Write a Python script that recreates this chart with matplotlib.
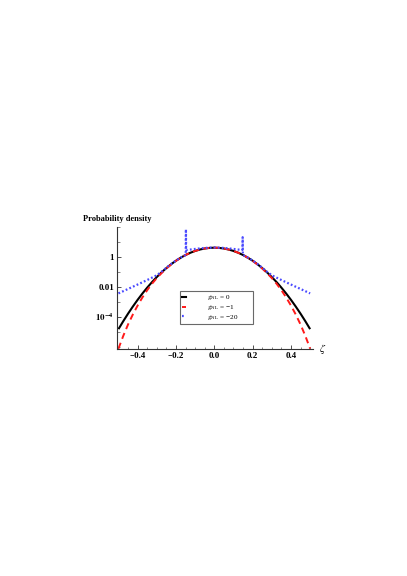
import numpy as np
import matplotlib
matplotlib.use("Agg")
import matplotlib.pyplot as plt
from matplotlib.lines import Line2D
from matplotlib.ticker import FixedLocator, NullFormatter, FixedFormatter, LogLocator

plt.rcParams['font.family'] = ['Liberation Serif', 'DejaVu Serif']
plt.rcParams['mathtext.fontset'] = 'stix'

# ---- data ----
zeta = [-0.5, -0.475, -0.45, -0.425, -0.4, -0.375, -0.35, -0.325, -0.3, -0.275,
        -0.25, -0.225, -0.2, -0.175, -0.15, -0.125, -0.1, -0.075, -0.05, -0.025,
        0.0, 0.025, 0.05, 0.075, 0.1, 0.125, 0.15, 0.175, 0.2, 0.225,
        0.25, 0.275, 0.3, 0.325, 0.35, 0.375, 0.4, 0.425, 0.45, 0.475, 0.5]

p_g0 = [1.49e-5, 5.03e-5, 1.60e-4, 4.77e-4, 1.34e-3, 3.53e-3, 8.73e-3, 0.0203, 0.0443, 0.0909,
        0.175, 0.318, 0.540, 0.863, 1.30, 1.83, 2.42, 3.01, 3.52, 3.87,
        3.99, 3.87, 3.52, 3.01, 2.42, 1.83, 1.30, 0.863, 0.540, 0.318,
        0.175, 0.0909, 0.0443, 0.0203, 8.73e-3, 3.53e-3, 1.34e-3, 4.77e-4, 1.60e-4, 5.03e-5, 1.49e-5]

p_g1 = [7.5e-7, 5.27e-6, 3.05e-5, 1.41e-4, 5.59e-4, 1.94e-3, 5.90e-3, 0.0158, 0.0377, 0.0810,
        0.163, 0.304, 0.528, 0.860, 1.30, 1.84, 2.43, 3.02, 3.53, 3.88,
        4.00, 3.88, 3.53, 3.02, 2.43, 1.84, 1.30, 0.860, 0.528, 0.304,
        0.163, 0.0810, 0.0377, 0.0158, 5.90e-3, 1.94e-3, 5.59e-4, 1.41e-4, 3.05e-5, 5.27e-6, 7.5e-7]

zeta_g20 = [-0.5, -0.45, -0.4, -0.35, -0.3, -0.275, -0.25, -0.225, -0.2, -0.175,
            -0.152, -0.149, -0.148, -0.147, -0.125, -0.1, -0.05, 0.0, 0.05, 0.1,
            0.125, 0.147, 0.148, 0.149, 0.152, 0.175, 0.2, 0.225, 0.25, 0.275,
            0.3, 0.35, 0.4, 0.45, 0.5]
p_g20 = [0.0036, 0.0071, 0.014, 0.028, 0.058, 0.100, 0.185, 0.33, 0.56, 0.87,
         1.25, 1.3, 67.0, 2.8, 3.0, 3.3, 3.85, 4.1, 3.85, 3.3,
         3.0, 2.8, 20.0, 1.3, 1.25, 0.87, 0.56, 0.33, 0.185, 0.100,
         0.058, 0.028, 0.014, 0.0071, 0.0036]

labels = [r'$g_{\mathrm{NL}}$ = 0', '$g_{\\mathrm{NL}}$ = \u22121', '$g_{\\mathrm{NL}}$ = \u221220']
xticks = [-0.4, -0.2, 0.0, 0.2, 0.4]
xticklabels = ['\u22120.4', '\u22120.2', '0.0', '0.2', '0.4']
yticks = [1.0, 0.01, 1e-4]
yticklabels = ['1', '0.01', r'$\mathbf{10^{-4}}$']

# ---- figure ----
W, H = 407, 576
fig = plt.figure(figsize=(W / 100, H / 100), dpi=100)
ax = fig.add_axes([117 / W, 1 - 349 / H, 196 / W, 122.3 / H])

blue = '#4a4aff'
red = '#ff1a1a'
ax.plot(zeta, p_g0, color='black', lw=1.5, solid_capstyle='butt')
ax.plot(zeta, p_g1, color=red, lw=1.4, linestyle=(0, (3.2, 2.2)))
ax.plot(zeta_g20, p_g20, color=blue, lw=1.6, linestyle=(0, (0.8, 1.0)))

ax.set_yscale('log')
ax.set_xlim(-0.5076, 0.515)
ax.set_ylim(10 ** -6.15, 100)

for s in ['top', 'right']:
    ax.spines[s].set_visible(False)
for s in ['left', 'bottom']:
    ax.spines[s].set_linewidth(0.8)
    ax.spines[s].set_color('#333333')

ax.xaxis.set_major_locator(FixedLocator(xticks))
ax.xaxis.set_major_formatter(FixedFormatter(xticklabels))
ax.xaxis.set_minor_locator(FixedLocator(list(np.arange(-0.5, 0.51, 0.05))))
ax.yaxis.set_major_locator(FixedLocator(yticks))
ax.yaxis.set_major_formatter(FixedFormatter(yticklabels))
ax.yaxis.set_minor_locator(LogLocator(base=10, subs=(1.0,), numticks=20))
ax.yaxis.set_minor_formatter(NullFormatter())

ax.tick_params(axis='both', which='major', direction='in', length=3, width=0.6,
               color='#333333', labelsize=6.5, pad=2)
ax.tick_params(axis='both', which='minor', direction='in', length=1.8, width=0.5,
               color='#555555')
for t in ax.get_xticklabels() + ax.get_yticklabels():
    t.set_fontweight('bold')

# axis labels
ax.text(0.0, 1.0 + 7.5 / 122.3, 'Probability density', transform=ax.transAxes,
        ha='center', va='center', fontsize=6, fontweight='bold')
ax.text(1.0 + 10 / 196, 0.0, r'$\zeta$', transform=ax.transAxes,
        ha='center', va='center', fontsize=8)

handles = [Line2D([], [], color='black', lw=1.5),
           Line2D([], [], color=red, lw=1.4, linestyle=(0, (3.2, 2.2))),
           Line2D([], [], color=blue, lw=1.6, linestyle=(0, (0.8, 1.0)))]
leg = ax.legend(handles, labels, loc='upper left', mode='expand',
                bbox_to_anchor=(0.321, 0.221, 0.374, 0.253),
                fontsize=5.2, handlelength=0.6, handletextpad=2.8,
                borderpad=0.3, labelspacing=0.12, frameon=True, fancybox=False,
                borderaxespad=0)
leg.get_frame().set_edgecolor('#444444')
leg.get_frame().set_linewidth(0.8)

fig.savefig('out.png', dpi=100, facecolor='white')
